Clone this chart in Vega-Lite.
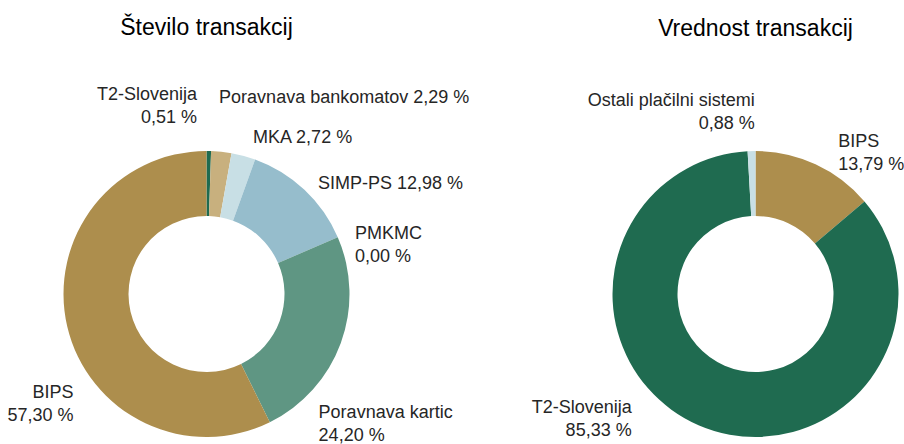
{
  "$schema": "https://vega.github.io/schema/vega-lite/v6.json",
  "autosize": {"type": "pad"},
  "padding": {"left": 0, "top": 17, "right": 0, "bottom": 0},
  "background": "white",
  "config": {
    "view": {"stroke": null},
    "title": {"font": "Liberation Sans", "fontSize": 23, "fontWeight": "normal", "color": "#000000", "anchor": "middle", "baseline": "alphabetic"},
    "text": {"font": "Liberation Sans", "fontSize": 18, "lineHeight": 23, "lineBreak": "\n", "color": "#262626", "baseline": "alphabetic"}
  },
  "datasets": {
    "stevilo": [
      {"system": "T2-Slovenija", "share": 0.51, "label": "T2-Slovenija\n0,51 %", "idx": 1},
      {"system": "Poravnava bankomatov", "share": 2.29, "label": "Poravnava bankomatov 2,29 %", "idx": 2},
      {"system": "MKA", "share": 2.72, "label": "MKA 2,72 %", "idx": 3},
      {"system": "SIMP-PS", "share": 12.98, "label": "SIMP-PS 12,98 %", "idx": 4},
      {"system": "PMKMC", "share": 0.0, "label": "PMKMC\n0,00 %", "idx": 5},
      {"system": "Poravnava kartic", "share": 24.20, "label": "Poravnava kartic\n24,20 %", "idx": 6},
      {"system": "BIPS", "share": 57.30, "label": "BIPS\n57,30 %", "idx": 7}
    ],
    "vrednost": [
      {"system": "BIPS", "share": 13.79, "label": "BIPS\n13,79 %", "idx": 1},
      {"system": "T2-Slovenija", "share": 85.33, "label": "T2-Slovenija\n85,33 %", "idx": 2},
      {"system": "Ostali plačilni sistemi", "share": 0.88, "label": "Ostali plačilni sistemi\n0,88 %", "idx": 3}
    ]
  },
  "bounds": "flush",
  "spacing": 197.5,
  "resolve": {"scale": {"theta": "independent", "color": "independent"}},
  "hconcat": [
    {
      "width": 413,
      "height": 290,
      "title": {"text": "Število transakcij", "offset": 46},
      "data": {"name": "stevilo"},
      "encoding": {
        "theta": {"field": "share", "type": "quantitative", "stack": true},
        "order": {"field": "idx", "type": "quantitative"},
        "detail": {"field": "system", "type": "nominal"}
      },
      "layer": [
        {
          "mark": {"type": "arc", "innerRadius": 78, "outerRadius": 143},
          "encoding": {
            "color": {
              "field": "system", "type": "nominal", "legend": null,
              "scale": {
                "domain": ["T2-Slovenija", "Poravnava bankomatov", "MKA", "SIMP-PS", "PMKMC", "Poravnava kartic", "BIPS"],
                "range": ["#1F6B50", "#C8B07E", "#C8DFE5", "#96BDCC", "#5C8F7E", "#5F9683", "#AD8E4D"]
              }
            }
          }
        },
        {
          "mark": {"type": "text", "radius": 194, "thetaOffset": -0.065, "align": "right"},
          "encoding": {"text": {"condition": {"test": "datum.system === 'T2-Slovenija'", "field": "label", "type": "nominal"}, "value": ""}}
        },
        {
          "mark": {"type": "text", "radius": 191, "thetaOffset": -0.038, "align": "left"},
          "encoding": {"text": {"condition": {"test": "datum.system === 'Poravnava bankomatov'", "field": "label", "type": "nominal"}, "value": ""}}
        },
        {
          "mark": {"type": "text", "radius": 158.5, "thetaOffset": 0.037, "align": "left"},
          "encoding": {"text": {"condition": {"test": "datum.system === 'MKA'", "field": "label", "type": "nominal"}, "value": ""}}
        },
        {
          "mark": {"type": "text", "radius": 153.5, "thetaOffset": 0.059, "align": "left"},
          "encoding": {"text": {"condition": {"test": "datum.system === 'SIMP-PS'", "field": "label", "type": "nominal"}, "value": ""}}
        },
        {
          "mark": {"type": "text", "radius": 158.5, "thetaOffset": 0.051, "align": "left"},
          "encoding": {"text": {"condition": {"test": "datum.system === 'PMKMC'", "field": "label", "type": "nominal"}, "value": ""}}
        },
        {
          "mark": {"type": "text", "radius": 167, "thetaOffset": 0.483, "align": "left"},
          "encoding": {"text": {"condition": {"test": "datum.system === 'Poravnava kartic'", "field": "label", "type": "nominal"}, "value": ""}}
        },
        {
          "mark": {"type": "text", "radius": 169, "thetaOffset": -0.436, "align": "right"},
          "encoding": {"text": {"condition": {"test": "datum.system === 'BIPS'", "field": "label", "type": "nominal"}, "value": ""}}
        }
      ]
    },
    {
      "width": 290,
      "height": 290,
      "title": {"text": "Vrednost transakcij", "offset": 51},
      "data": {"name": "vrednost"},
      "encoding": {
        "theta": {"field": "share", "type": "quantitative", "stack": true},
        "order": {"field": "idx", "type": "quantitative"},
        "detail": {"field": "system", "type": "nominal"}
      },
      "layer": [
        {
          "mark": {"type": "arc", "innerRadius": 78, "outerRadius": 143},
          "encoding": {
            "color": {
              "field": "system", "type": "nominal", "legend": null,
              "scale": {
                "domain": ["BIPS", "T2-Slovenija", "Ostali plačilni sistemi"],
                "range": ["#AD8E4D", "#1F6B50", "#C8DFE5"]
              }
            }
          }
        },
        {
          "mark": {"type": "text", "radius": 188, "thetaOffset": 0.024, "align": "right"},
          "encoding": {"text": {"condition": {"test": "datum.system === 'Ostali plačilni sistemi'", "field": "label", "type": "nominal"}, "value": ""}}
        },
        {
          "mark": {"type": "text", "radius": 169, "thetaOffset": 0.079, "align": "left"},
          "encoding": {"text": {"condition": {"test": "datum.system === 'BIPS'", "field": "label", "type": "nominal"}, "value": ""}}
        },
        {
          "mark": {"type": "text", "radius": 172, "thetaOffset": 0.398, "align": "right"},
          "encoding": {"text": {"condition": {"test": "datum.system === 'T2-Slovenija'", "field": "label", "type": "nominal"}, "value": ""}}
        }
      ]
    }
  ]
}
